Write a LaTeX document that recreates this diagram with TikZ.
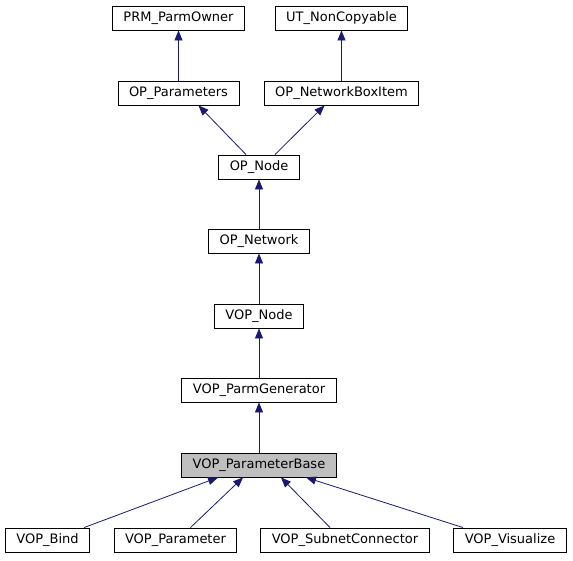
\documentclass[tikz,border=0pt]{standalone}
\usepackage{fontspec}
\setmainfont{DejaVu Sans}
\usepackage{tikz}
\usetikzlibrary{arrows.meta, positioning}
\definecolor{midnight}{HTML}{191970}
\definecolor{basegray}{HTML}{BFBFBF}

\begin{document}
\begin{tikzpicture}[
    x=1pt, y=-1pt,
    cls/.style={rectangle, draw=black, fill=white, line width=0.9pt, minimum height=24pt, inner xsep=11pt, inner ysep=0pt, font=\fontsize{13}{15}\selectfont},
    current/.style={cls, fill=basegray},
    arrow/.style={-{Triangle[length=10pt, width=8pt]}, draw=midnight, line width=0.8pt}
  ]
    \useasboundingbox (0,0) rectangle (573,560);
    \node[cls] (prm) at (178.5,18) {PRM\_ParmOwner};
    \node[cls] (ut) at (341.5,18) {UT\_NonCopyable};
    \node[cls] (opparm) at (178.5,93) {OP\_Parameters};
    \node[cls] (netbox) at (341.5,93) {OP\_NetworkBoxItem};
    \node[cls] (opnode) at (259,167) {OP\_Node};
    \node[cls] (opnet) at (259,241) {OP\_Network};
    \node[cls] (vopnode) at (259,316) {VOP\_Node};
    \node[cls] (parmgen) at (259,390) {VOP\_ParmGenerator};
    \node[current] (pbase) at (259,465) {VOP\_ParameterBase};
    \node[cls] (bind) at (47.5,540) {VOP\_Bind};
    \node[cls] (vparam) at (175.5,540) {VOP\_Parameter};
    \node[cls] (subnet) at (345,540) {VOP\_SubnetConnector};
    \node[cls] (visual) at (510,540) {VOP\_Visualize};
    \draw[arrow] (opparm) -- (prm);
    \draw[arrow] (netbox) -- (ut);
    \draw[arrow] ([xshift=-13pt]opnode.north) -- ([xshift=20pt]opparm.south);
    \draw[arrow] ([xshift=16pt]opnode.north) -- ([xshift=-17pt]netbox.south);
    \draw[arrow] (opnet) -- (opnode);
    \draw[arrow] (vopnode) -- (opnet);
    \draw[arrow] (parmgen) -- (vopnode);
    \draw[arrow] (pbase) -- (parmgen);
    \draw[arrow] ([xshift=-6pt]bind.north east) -- ([xshift=-41pt]pbase.south);
    \draw[arrow] ([xshift=15pt]vparam.north) -- ([xshift=-16pt]pbase.south);
    \draw[arrow] ([xshift=-15pt]subnet.north) -- ([xshift=22pt]pbase.south);
    \draw[arrow] ([xshift=-47pt]visual.north) -- ([xshift=47pt]pbase.south);
  \end{tikzpicture}
\end{document}
